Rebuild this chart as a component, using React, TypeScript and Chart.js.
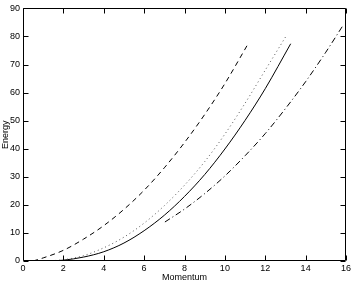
import React, { useEffect, useRef } from "react";
import { Chart, registerables } from "chart.js";

Chart.register(...registerables);

// Momentum / Energy readings for each curve
const solidX = [1, 1.5, 2, 3, 4, 5, 6, 7, 8, 9, 10, 11, 12, 13.26];
const solidY = [0, 0.1, 0.3, 1.4, 3.3, 6.4, 10.8, 16.3, 23, 30.8, 39.9, 50.1, 61.4, 77.4];

const dottedX = [1, 1.5, 2, 3, 4, 5, 6, 7, 8, 9, 10, 11, 12, 13.02];
const dottedY = [0, 0.15, 0.45, 1.9, 4.7, 8.5, 13.5, 19.7, 27, 35.4, 45.2, 56.2, 68, 80];

const dashedX = [0.5, 1, 2, 3, 4, 5, 6, 7, 8, 9, 10, 11.16];
const dashedY = [0, 1.1, 3.8, 7.8, 12.6, 18.4, 25.2, 33.2, 42.2, 52.2, 63.2, 77.5];

const dashDotX = [7.03, 8, 9, 10, 11, 12, 13, 14, 15, 15.83];
const dashDotY = [13.9, 18.5, 24, 30.3, 37.5, 45.4, 54.3, 63.9, 74.4, 83.7];

const xMin = 0, xMax = 16, xStep = 2;
const yMin = 0, yMax = 90, yStep = 10;
const xTitle = "Momentum";
const yTitle = "Energy";

const pts = (xs: number[], ys: number[]) => xs.map((x, i) => ({ x, y: ys[i] }));

const frameTicks = {
  id: "frameTicks",
  afterDraw(chart: any) {
    const { ctx, chartArea } = chart;
    const { left, right, top, bottom } = chartArea;
    const xs = chart.scales.x;
    const ys = chart.scales.y;
    const L = 5;
    ctx.save();
    ctx.strokeStyle = "#000";
    ctx.lineWidth = 1;
    ctx.beginPath();
    const l = Math.round(left) + 0.5, r = Math.round(right) - 0.5;
    const t = Math.round(top) + 0.5, b = Math.round(bottom) - 0.5;
    ctx.rect(l, t, r - l, b - t);
    xs.ticks.forEach((tk: any) => {
      const px = Math.round(xs.getPixelForValue(tk.value)) + 0.5;
      ctx.moveTo(px, b); ctx.lineTo(px, b - L);
      ctx.moveTo(px, t); ctx.lineTo(px, t + L);
    });
    ys.ticks.forEach((tk: any) => {
      const py = Math.round(ys.getPixelForValue(tk.value)) + 0.5;
      ctx.moveTo(l, py); ctx.lineTo(l + L, py);
      ctx.moveTo(r, py); ctx.lineTo(r - L, py);
    });
    ctx.stroke();
    ctx.restore();
  },
};

export default function App() {
  const ref = useRef<HTMLCanvasElement | null>(null);
  useEffect(() => {
    document.body.style.margin = "0";
    const font = { family: "'Liberation Sans', Arial, Helvetica, sans-serif", size: 9 };
    const common = { fill: false, pointRadius: 0, borderWidth: 1, cubicInterpolationMode: "monotone" as const };
    const chart = new Chart(ref.current!, {
      type: "line",
      data: {
        datasets: [
          { ...common, data: pts(dashedX, dashedY), borderColor: "#000", borderDash: [5, 4] },
          { ...common, data: pts(dottedX, dottedY), borderColor: "#555", borderDash: [1, 3] },
          { ...common, data: pts(solidX, solidY), borderColor: "#000" },
          { ...common, data: pts(dashDotX, dashDotY), borderColor: "#000", borderDash: [6, 3, 1, 3] },
        ],
      },
      options: {
        animation: false,
        responsive: false,
        maintainAspectRatio: false,
        layout: { padding: { top: 6, right: 8, left: 0, bottom: 0 } },
        plugins: { legend: { display: false }, tooltip: { enabled: false } },
        scales: {
          x: {
            type: "linear",
            min: xMin,
            max: xMax,
            ticks: { stepSize: xStep, font, color: "#000", padding: 2, maxRotation: 0 },
            grid: { display: false, drawTicks: false },
            border: { display: false },
            title: { display: true, text: xTitle, font, color: "#000", padding: { top: 0, bottom: 1 } },
            afterFit: (s: any) => { s.height = 23; },
          },
          y: {
            type: "linear",
            min: yMin,
            max: yMax,
            ticks: { stepSize: yStep, font, color: "#000", padding: 3 },
            grid: { display: false, drawTicks: false },
            border: { display: false },
            title: { display: true, text: yTitle, font, color: "#000", padding: { top: 0, bottom: 0 } },
            afterFit: (s: any) => { s.width = 23; },
          },
        },
      },
      plugins: [frameTicks],
    });
    return () => chart.destroy();
  }, []);
  return (
    <div style={{ width: 354, height: 284, background: "#fff" }}>
      <canvas ref={ref} width={354} height={284} style={{ display: "block" }} />
    </div>
  );
}
